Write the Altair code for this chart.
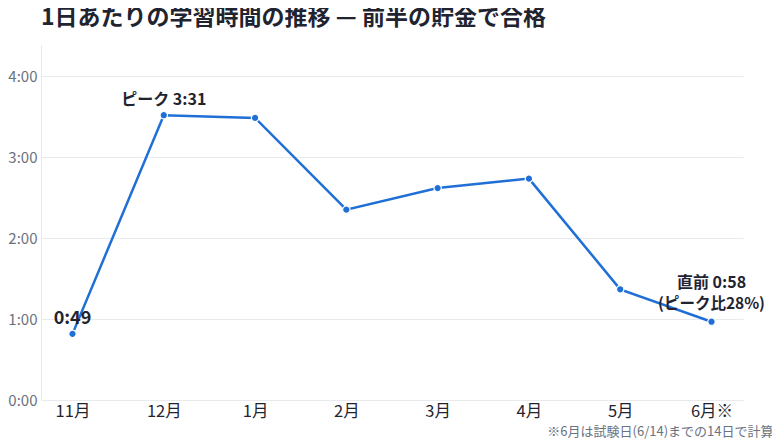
import altair as alt
import pandas as pd

months = ["11月", "12月", "1月", "2月", "3月", "4月", "5月", "6月※"]
minutes = [49, 211, 209, 141, 157, 164, 82, 58]

peak_month = ["12月"]
peak_value = [211]
peak_text = ["ピーク 3:31"]

last_month = ["6月※"]
last_value = [58]
last_line1 = ["直前 0:58"]
last_line2 = ["(ピーク比28%)"]

start_month = ["11月"]
start_value = [49]
start_text = ["0:49"]

title_text = "1日あたりの学習時間の推移 — 前半の貯金で合格"
footnote = "※6月は試験日(6/14)までの14日で計算"
y_ticks = [0, 60, 120, 180, 240]

df = pd.DataFrame({"month": months, "minutes": minutes})
peak_df = pd.DataFrame({"month": peak_month, "minutes": peak_value, "label": peak_text})
last_df = pd.DataFrame({"month": last_month, "minutes": last_value, "l1": last_line1, "l2": last_line2})
start_df = pd.DataFrame({"month": start_month, "minutes": start_value, "label": start_text})

FONT = "Noto Sans CJK JP"
BLUE = "#1f6fd6"
INK = "#1f2430"

x = alt.X(
    "month:N",
    sort=months,
    scale=alt.Scale(type="point", padding=0.345),
    axis=alt.Axis(
        title=footnote,
        titleFontSize=13,
        titleFontWeight="normal",
        titleColor="#6b7280",
        titleAlign="right",
        titleAnchor="end",
        titleX=732,
        titleY=35,
        titleBaseline="alphabetic",
        labelFontSize=16.5,
        labelColor=INK,
        labelPadding=3,
        labelAngle=0,
        ticks=False,
        domain=False,
        grid=False,
    ),
)
y = alt.Y(
    "minutes:Q",
    scale=alt.Scale(domain=[0, 263], nice=False, zero=True),
    axis=alt.Axis(
        title=None,
        values=y_ticks,
        labelExpr="floor(datum.value/60) + ':00'",
        labelFontSize=15,
        labelColor="#6b7280",
        labelPadding=4,
        ticks=False,
        domain=True,
        domainColor="#e8eaee",
        gridColor="#e8eaee",
        gridWidth=1,
    ),
)
xs = alt.X("month:N", sort=months)

line = alt.Chart(df).mark_line(color=BLUE, strokeWidth=2.5).encode(x=x, y=y)
pts = alt.Chart(df).mark_point(
    filled=True, color=BLUE, size=55, stroke="white", strokeWidth=1.2, opacity=1
).encode(x=x, y=y)

t_peak = alt.Chart(peak_df).mark_text(
    font=FONT, fontSize=16, fontWeight="bold", color=INK, baseline="bottom", dy=-7
).encode(x=xs, y="minutes:Q", text="label:N")

t_last1 = alt.Chart(last_df).mark_text(
    font=FONT, fontSize=16, fontWeight="bold", color=INK, baseline="bottom", dy=-31
).encode(x=xs, y="minutes:Q", text="l1:N")

t_last2 = alt.Chart(last_df).mark_text(
    font=FONT, fontSize=15.5, fontWeight="bold", color=INK, baseline="bottom", dy=-10
).encode(x=xs, y="minutes:Q", text="l2:N")

t_start = alt.Chart(start_df).mark_text(
    font=FONT, fontSize=18, fontWeight="bold", color=INK, baseline="bottom", dy=-6
).encode(x=xs, y="minutes:Q", text="label:N")

chart = (
    alt.layer(line, pts, t_peak, t_last1, t_last2, t_start)
    .properties(
        width=702,
        height=355,
        autosize=alt.AutoSizeParams(type="none"),
        padding={"left": 33, "top": 37, "right": 29, "bottom": 39},
        title=alt.TitleParams(
            title_text,
            anchor="start",
            frame="group",
            fontSize=23,
            fontWeight="bold",
            color=INK,
            font=FONT,
            offset=15,
        ),
    )
    .configure(font=FONT)
    .configure_view(stroke=None)
)

chart.save("out.html", embed_options={"renderer": "svg", "actions": False})
